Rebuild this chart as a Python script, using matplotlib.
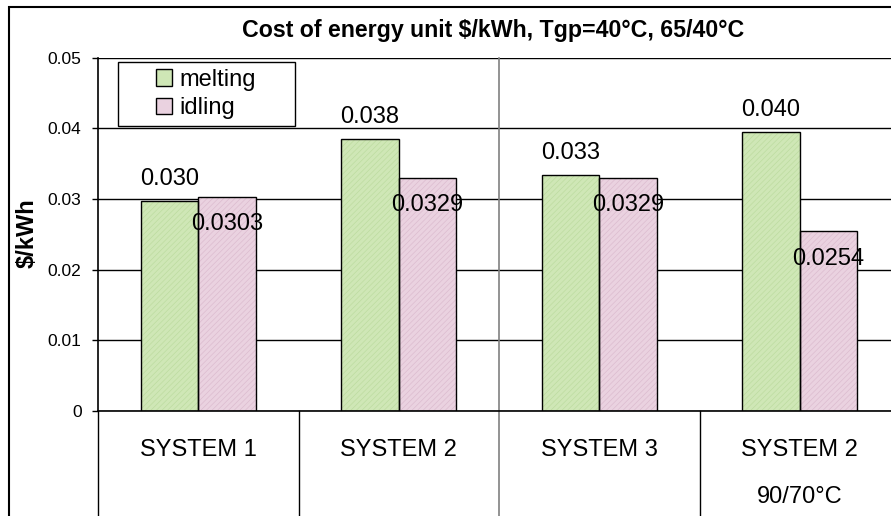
import matplotlib
matplotlib.use("Agg")
import matplotlib.pyplot as plt
import numpy as np
from matplotlib.patches import Rectangle

plt.rcParams['font.family'] = ['Liberation Sans', 'DejaVu Sans']
plt.rcParams['hatch.linewidth'] = 0.5

# data
systems = ['SYSTEM 1', 'SYSTEM 2', 'SYSTEM 3', 'SYSTEM 2']
system_notes = ['', '', '', '90/70°C']
melting = [0.0297, 0.0385, 0.0334, 0.0395]
idling = [0.0303, 0.0329, 0.0329, 0.0254]
melting_labels = ['0.030', '0.038', '0.033', '0.040']
idling_labels = ['0.0303', '0.0329', '0.0329', '0.0254']
y_ticks = [0, 0.01, 0.02, 0.03, 0.04, 0.05]
y_tick_labels = ['0', '0.01', '0.02', '0.03', '0.04', '0.05']

W, H = 891, 516
fig = plt.figure(figsize=(W / 100, H / 100), dpi=100)
fig.patch.set_facecolor('white')

# plot area placed in pixels (left 98, right 900, top 57.5, bottom 411)
ax = fig.add_axes([98 / W, (H - 411) / H, (900 - 98) / W, (411 - 57.5) / H])

x = np.arange(len(systems))
bw = 0.287

green, green_dot = '#cfe7b6', '#bddca0'
pink, pink_dot = '#ead2e0', '#dcbccf'

# fill with a fine texture, then the black outline
ax.bar(x - bw / 2, melting, bw, color=green, edgecolor=green_dot, hatch='//////', linewidth=0, zorder=2)
ax.bar(x + bw / 2, idling, bw, color=pink, edgecolor=pink_dot, hatch='//////', linewidth=0, zorder=2)
ax.bar(x - bw / 2, melting, bw, facecolor='none', edgecolor='black', linewidth=1, zorder=3)
ax.bar(x + bw / 2, idling, bw, facecolor='none', edgecolor='black', linewidth=1, zorder=3)

for i in range(len(systems)):
    ax.annotate(melting_labels[i], (x[i] - bw / 2, melting[i]), xytext=(0, 15.5),
                textcoords='offset points', ha='center', va='center', fontsize=17, zorder=4)
    ax.annotate(idling_labels[i], (x[i] + bw / 2, idling[i]), xytext=(0, -19.5),
                textcoords='offset points', ha='center', va='center', fontsize=17, zorder=4)
    ax.annotate(systems[i], (x[i], 0), xycoords=('data', 'axes fraction'), xytext=(0, -28),
                textcoords='offset points', ha='center', va='center', fontsize=17)
    if system_notes[i]:
        ax.annotate(system_notes[i], (x[i], 0), xycoords=('data', 'axes fraction'), xytext=(0, -62),
                    textcoords='offset points', ha='center', va='center', fontsize=17)

ax.set_xlim(-0.5, 3.5)
ax.set_ylim(0, 0.05)
ax.set_yticks(y_ticks)
ax.set_yticklabels(y_tick_labels, fontsize=12.5)
ax.set_xticks([])
ax.tick_params(axis='y', direction='out', length=4.3, width=1, pad=7.5)
ax.grid(axis='y', color='black', linewidth=1, zorder=1)
ax.set_axisbelow(True)
for s in ['top', 'right']:
    ax.spines[s].set_visible(False)
ax.spines['left'].set_linewidth(1.2)
ax.spines['bottom'].set_linewidth(1.2)

# table-like separators under the category axis
below = -105 / (411 - 57.5)
for xs in [-0.5, 0.5, 2.5]:
    ax.axvline(xs, ymin=below, ymax=0, color='black', linewidth=1, clip_on=False)
ax.axvline(1.5, ymin=below, ymax=1, color='#808080', linewidth=1.2, clip_on=False, zorder=1)

# legend box
ax.add_patch(Rectangle((118 / W, 1 - 126 / H), (295 - 118) / W, (126 - 62) / H,
                       transform=fig.transFigure, facecolor='white', edgecolor='black',
                       linewidth=1, zorder=5, clip_on=False))
handles = [Rectangle((0, 0), 1, 1, facecolor=green, edgecolor='black'),
           Rectangle((0, 0), 1, 1, facecolor=pink, edgecolor='black')]
leg = fig.legend(handles, ['melting', 'idling'], loc='center', bbox_to_anchor=(206 / W, 1 - 94 / H),
                 frameon=False, fontsize=17, handlelength=0.68, handleheight=0.68,
                 handletextpad=0.3, labelspacing=0.27, borderpad=0)
leg.set_zorder(6)

# title and y label
fig.text(493 / W, 1 - 30 / H, 'Cost of energy unit $/kWh, Tgp=40°C, 65/40°C',
         ha='center', va='center', fontsize=16.7, fontweight='bold')
fig.text(27 / W, 1 - 233 / H, '$/kWh', rotation=90, ha='center', va='center',
         fontsize=17, fontweight='bold')

# outer chart frame (cut at right and bottom)
fig.patches.append(Rectangle((9 / W, -0.1), 1.2, 1 - 7 / H + 0.1, transform=fig.transFigure,
                             fill=False, edgecolor='black', linewidth=1.5))

fig.savefig('out.png', dpi=100)
